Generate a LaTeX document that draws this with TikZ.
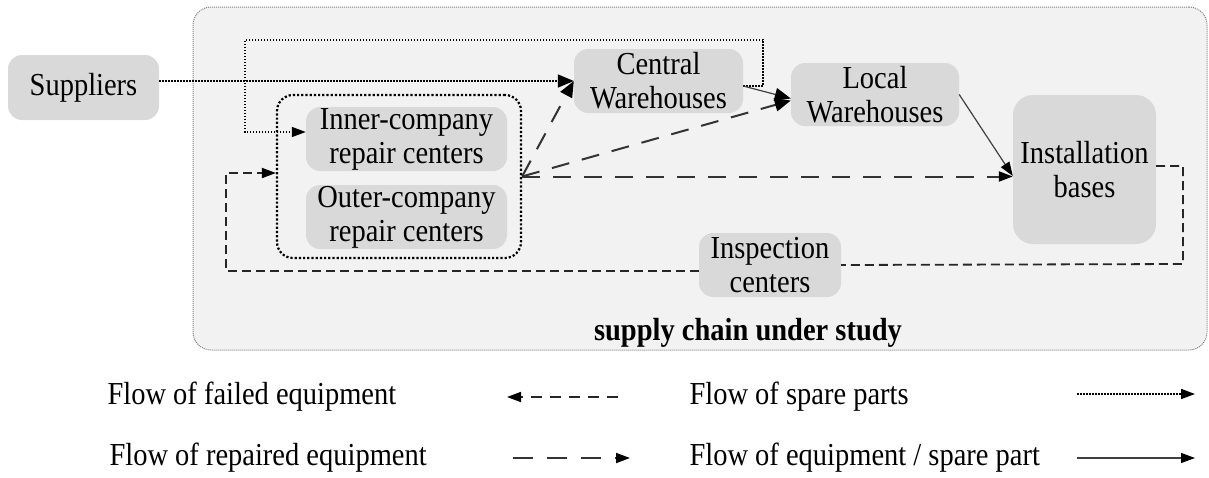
\documentclass[tikz,border=0pt]{standalone}
\usepackage{fontspec}
\setmainfont[FakeStretch=0.89]{Liberation Serif}
\usetikzlibrary{arrows.meta,calc}
\definecolor{bgfill}{HTML}{F2F2F2}
\definecolor{boxgray}{HTML}{D9D9D9}
\definecolor{bordergray}{HTML}{7F7F7F}
\begin{document}
\begin{tikzpicture}[x=1pt,y=-1pt,
  every node/.style={font=\fontsize{32}{34}\selectfont},
  blk/.style={draw=none,fill=boxgray,rounded corners=14pt,align=center,inner sep=0pt},
  studybox/.style={draw=bordergray,line width=1pt,dash pattern=on 1pt off 1pt,fill=bgfill,rounded corners=18pt,inner sep=0pt},
  groupbox/.style={draw=black,line width=2.2pt,dash pattern=on 2.2pt off 2pt,rounded corners=16pt,inner sep=0pt},
  spare/.style={line width=1.6pt,dash pattern=on 1.6pt off 1.4pt,black},
  failed/.style={line width=1.8pt,dash pattern=on 9pt off 5pt,black!85},
  repaired/.style={line width=2pt,dash pattern=on 18pt off 13pt,black!80},
  solidflow/.style={line width=1.2pt,black!75},
  bigtip/.style={-{Triangle[length=16pt,width=13pt,color=black]}},
  smalltip/.style={-{Triangle[length=14pt,width=10pt,color=black]}}]
\useasboundingbox (0,0) rectangle (1209,477);
% supply chain frame
\node[studybox,minimum width=1014pt,minimum height=343pt] (study) at (700,178.5) {};
\node[font=\fontsize{32}{34}\selectfont\bfseries] (studylabel) at (748,333) {supply chain under study};
% group of repair centers
\node[groupbox,minimum width=244pt,minimum height=163pt] (grp) at (399,176.5) {};
% nodes
\node[blk,minimum width=151pt,minimum height=65pt] (sup) at (83.5,87.5) {Suppliers};
\node[blk,minimum width=169pt,minimum height=64pt] (cw) at (658.5,81) {Central\\Warehouses};
\node[blk,minimum width=168pt,minimum height=63pt] (loc) at (875,94.5) {Local\\Warehouses};
\node[blk,minimum width=143pt,minimum height=149pt,rounded corners=20pt] (inst) at (1084.5,169.5) {Installation\\bases};
\node[blk,minimum width=201pt,minimum height=64pt] (inner) at (406.5,139) {Inner-company\\repair centers};
\node[blk,minimum width=201pt,minimum height=64pt] (outer) at (406.5,217) {Outer-company\\repair centers};
\node[blk,minimum width=142pt,minimum height=64pt] (insp) at (770,265) {Inspection\\centers};
% loop corners
\coordinate (lpTL) at (245,40);
\coordinate (fbR) at (1183,264);
\coordinate (fbL) at (226,271);
% spare parts flows
\draw[spare,bigtip] (sup.east |- cw.west) -- (cw.west);
\draw[spare,smalltip] ([yshift=-5pt]cw.east) -- ++(20,0) |- (lpTL) |- ([yshift=7pt]inner.west);
% repaired flows
\draw[repaired,bigtip] (grp.east) -- (cw.west);
\draw[repaired,bigtip] (grp.east) -- ([yshift=-6pt]loc.west);
\draw[repaired,smalltip] (grp.east) -- (grp.east -| inst.west);
% equipment flows
\draw[solidflow,bigtip] ([yshift=-5pt]cw.east) -- ([yshift=-4pt]loc.west);
\draw[solidflow,smalltip] (loc.east) -- ([yshift=-6.5pt]inst.west);
% failed flows
\draw[failed] ([yshift=3.5pt]inst.east) -| (fbR) -- (insp.east);
\draw[failed,smalltip] ([yshift=-6pt]insp.west) -- ([yshift=-6pt]insp.west -| fbL) |- ([yshift=3.5pt]grp.west);
% legend
\node[anchor=west] (lgf) at (104,397) {Flow of failed equipment};
\node[anchor=west] (lgr) at (106,458) {Flow of repaired equipment};
\node[anchor=west] (lgs) at (686,397) {Flow of spare parts};
\node[anchor=west] (lge) at (686,458) {Flow of equipment / spare part};
\coordinate (a1) at (618,397); \coordinate (a2) at (507,397);
\coordinate (b1) at (513,458); \coordinate (b2) at (630,458);
\coordinate (c1) at (1077,394); \coordinate (c2) at (1195,394);
\coordinate (d1) at (1077,458); \coordinate (d2) at (1195,458);
\draw[line width=1.8pt,dash pattern=on 11pt off 8pt,black!85,smalltip] (a1) -- (a2);
\draw[line width=1.8pt,dash pattern=on 20pt off 14pt,black!80,smalltip] (b1) -- (b2);
\draw[spare,smalltip] (c1) -- (c2);
\draw[solidflow,smalltip] (d1) -- (d2);
\end{tikzpicture}
\end{document}
